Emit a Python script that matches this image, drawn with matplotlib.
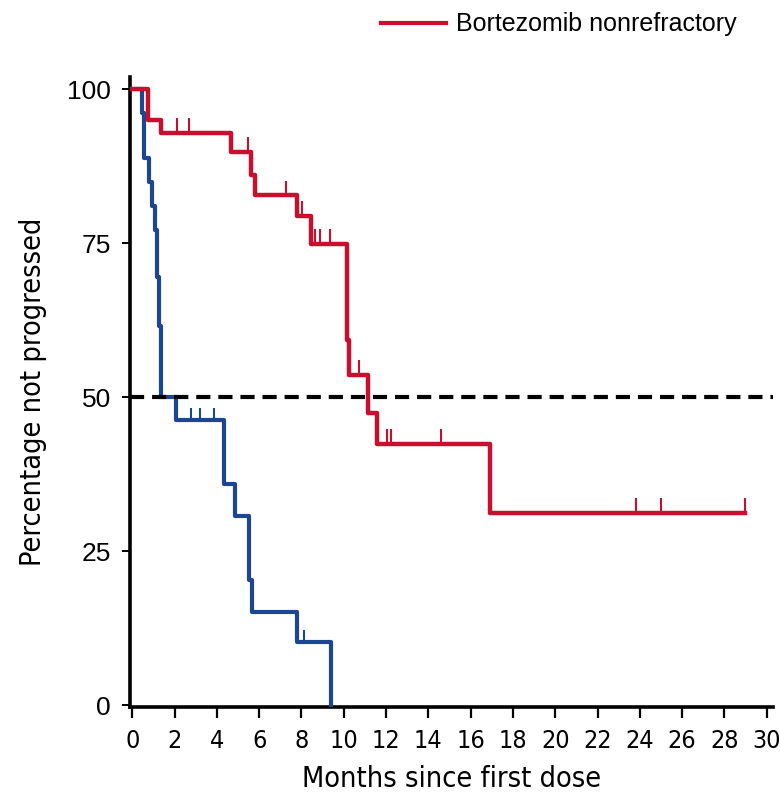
import numpy as np
import matplotlib
matplotlib.use("Agg")
import matplotlib.pyplot as plt
from matplotlib import font_manager as fm
from matplotlib.lines import Line2D

# progression-free curves (months, % not progressed)
blue_t = [0, 0.44, 0.57, 0.80, 0.93, 1.07, 1.18, 1.27, 1.37, 2.09, 4.34, 4.86, 5.53, 5.65, 7.77, 9.40]
blue_s = [100, 96.2, 88.8, 84.9, 81.0, 77.1, 69.5, 61.6, 50.0, 46.3, 36.0, 30.7, 20.4, 15.2, 10.2, 0]
blue_cens = [2.76, 3.20, 3.86, 8.13]

red_t = [0, 0.73, 1.36, 4.65, 5.61, 5.80, 7.77, 8.43, 10.14, 10.25, 11.13, 11.56, 16.91, 28.97]
red_s = [100, 95.1, 92.9, 89.9, 86.1, 82.8, 79.5, 74.9, 59.3, 53.6, 47.5, 42.4, 31.3, 31.3]
red_cens = [2.13, 2.68, 5.46, 7.28, 8.02, 8.65, 8.87, 9.33, 10.72, 12.03, 12.22, 14.6, 23.8, 25.0, 28.97]

RED = "#c8102e"
BLUE = "#1d4690"
regular = ["Liberation Sans", "DejaVu Sans"]


def pick_narrow():
    # prefer a narrow/condensed sans face if one is installed
    cands = []
    for f in fm.fontManager.ttflist:
        nm = f.name.lower()
        st = str(f.stretch).lower()
        if f.style != "normal" or f.weight not in (400, "normal", "regular"):
            continue
        if "narrow" in nm or "condensed" in nm or st in ("condensed", "semi-condensed"):
            cands.append(f)
    cands.sort(key=lambda f: (0 if "liberation" in f.name.lower() else 1,
                              0 if "condensed" == str(f.stretch) else 1))
    return cands[0].fname if cands else None


narrow_file = pick_narrow()
if narrow_file:
    def narrow(size):
        return fm.FontProperties(fname=narrow_file, size=size)
    tick_size, label_size = 18, 20.7
else:
    def narrow(size):
        return fm.FontProperties(family=regular, size=size)
    tick_size, label_size = 15.5, 20


def level_at(t, s, x):
    i = np.searchsorted(t, x, side="right") - 1
    return np.asarray(s)[i]


fig = plt.figure(figsize=(7.8, 8.06), dpi=100)
ax = fig.add_axes([0.1669, 0.1234, 0.8242, 0.781])

ax.step(blue_t, blue_s, where="post", color=BLUE, lw=3.0, zorder=3)
ax.vlines(blue_cens, level_at(blue_t, blue_s, blue_cens),
          level_at(blue_t, blue_s, blue_cens) + 2.0, color=BLUE, lw=1.5, zorder=3)

ax.step(red_t, red_s, where="post", color=RED, lw=3.2, zorder=4)
ax.vlines(red_cens, level_at(red_t, red_s, red_cens),
          level_at(red_t, red_s, red_cens) + 2.4, color=RED, lw=1.5, zorder=4)

# median line
ax.axhline(50, color="black", lw=3.0, dashes=(3.4, 1.9), zorder=5)

ax.set_xlim(-0.1, 30.3)
ax.set_ylim(-0.2, 102)
ax.set_xticks(np.arange(0, 31, 2))
ax.set_yticks([0, 25, 50, 75, 100])

for side in ["top", "right"]:
    ax.spines[side].set_visible(False)
for side in ["left", "bottom"]:
    ax.spines[side].set_linewidth(2.6)

ax.tick_params(axis="y", direction="out", length=6, width=1.4, pad=8)
ax.tick_params(axis="x", direction="out", length=8, width=1.6, pad=8)
for lab in ax.get_yticklabels():
    lab.set_fontfamily(regular)
    lab.set_fontsize(19)
for lab in ax.get_xticklabels():
    lab.set_fontproperties(narrow(tick_size))

ax.set_xlabel("Months since first dose", fontproperties=narrow(label_size), labelpad=9)
ax.set_ylabel("Percentage not progressed", fontproperties=narrow(label_size))
ax.yaxis.set_label_coords(-0.130, 0.5)

handle = Line2D([], [], color=RED, lw=3.0)
fig.legend([handle], ["Bortezomib nonrefractory"], loc="center left",
           bbox_to_anchor=(380.7 / 780, 1 - 24.3 / 806), frameon=False,
           prop={"family": regular, "size": 18}, handlelength=2.6,
           handletextpad=0.43, borderpad=0, borderaxespad=0)

fig.savefig("out.png", dpi=100)
